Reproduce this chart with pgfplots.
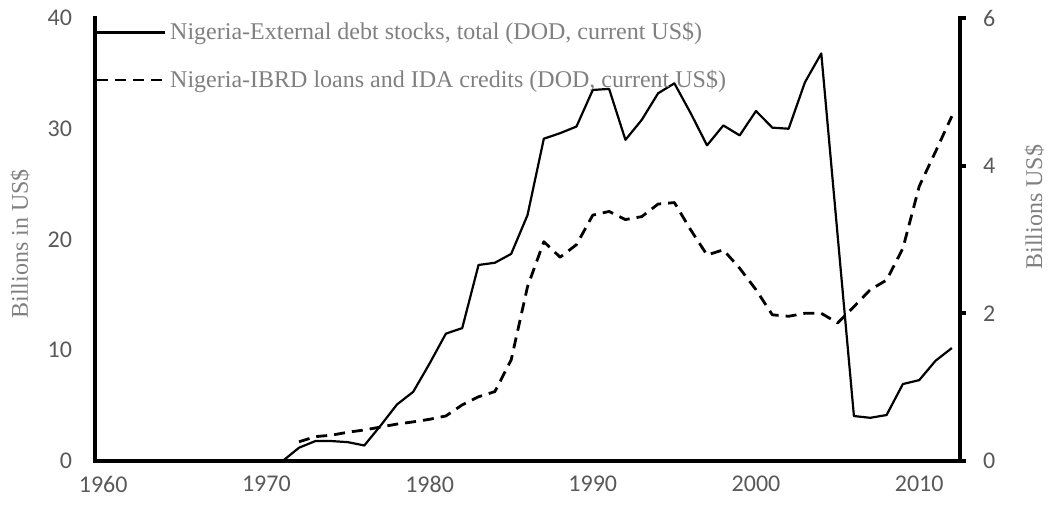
\documentclass[border=0pt]{standalone}
\usepackage{fontspec}
\setmainfont{Liberation Serif}
\newfontfamily\tickfont{Carlito}
\usepackage{pgfplots}
\pgfplotsset{compat=1.18}
\usetikzlibrary{calc}

\definecolor{ticktxt}{RGB}{89,89,89}
\definecolor{labtxt}{RGB}{128,128,128}

\pgfplotstableread{
year debt
1971 0.0
1972 1.2
1973 1.8
1974 1.8
1975 1.7
1976 1.4
1977 3.2
1978 5.1
1979 6.25
1980 8.8
1981 11.5
1982 12.0
1983 17.7
1984 17.9
1985 18.7
1986 22.2
1987 29.1
1988 29.6
1989 30.2
1990 33.5
1991 33.6
1992 29.0
1993 30.8
1994 33.2
1995 34.1
1996 31.4
1997 28.5
1998 30.3
1999 29.4
2000 31.6
2001 30.1
2002 30.0
2003 34.2
2004 36.8
2005 20.4
2006 4.06
2007 3.9
2008 4.15
2009 6.95
2010 7.3
2011 9.05
2012 10.2
}\debt

\pgfplotstableread{
year ibrd
1972 0.26
1973 0.33
1974 0.35
1975 0.39
1976 0.42
1977 0.46
1978 0.50
1979 0.53
1980 0.565
1981 0.61
1982 0.76
1983 0.87
1984 0.94
1985 1.37
1986 2.36
1987 2.97
1988 2.76
1989 2.93
1990 3.33
1991 3.38
1992 3.27
1993 3.31
1994 3.48
1995 3.50
1996 3.13
1997 2.79
1998 2.86
1999 2.61
2000 2.32
2001 1.98
2002 1.96
2003 2.00
2004 2.00
2005 1.87
2006 2.09
2007 2.32
2008 2.45
2009 2.88
2010 3.72
2011 4.19
2012 4.67
}\ibrd

\pgfplotsset{
  base/.style={
    scale only axis,
    width=432.5pt, height=221.5pt,
    xmin=1959.5, xmax=2012.5,
    axis line style={line width=2pt, -, line cap=rect},
    tick label style={font=\tickfont\fontsize{12}{14}\selectfont, text=ticktxt},
    /pgf/number format/assume math mode=true,
    /pgf/number format/1000 sep={},
    clip=false,
  },
  dashline/.style={black, line width=1.4pt, dash pattern=on 5.5pt off 3.5pt, line join=round},
  solidline/.style={black, line width=1.1pt, line join=round},
}

\begin{document}
\begin{tikzpicture}
\begin{axis}[
  base, name=main,
  axis x line*=bottom, axis y line*=left,
  ymin=0, ymax=40,
  xtick={1960,1970,...,2010},
  ytick={0,10,20,30,40},
  major tick length=0pt,
  xticklabel style={yshift=-4pt},
  yticklabel style={xshift=-8pt},
  every axis y label/.style={at={(axis description cs:-0.0867,0.49)}, rotate=90, anchor=center},
  ylabel={Billions in US\$},
  ylabel style={font=\fontsize{12}{14}\selectfont, text=labtxt},
  legend style={at={(axis description cs:0,1)}, anchor=north west, draw=none, fill=none,
    inner xsep=0pt, inner ysep=0pt, row sep=9.5pt,
    font=\fontsize{12}{14}\selectfont, text=labtxt, cells={anchor=west}},
  legend image code/.code={\draw[#1] (0pt,0pt) -- (34pt,0pt);},
]
\addplot[solidline] table[x=year, y=debt] {\debt};
\addlegendentry{Nigeria-External debt stocks, total (DOD, current US\$)}
\addlegendimage{dashline}
\addlegendentry{Nigeria-IBRD loans and IDA credits (DOD, current US\$)}
\end{axis}

\begin{axis}[
  base,
  hide x axis,
  axis y line*=right,
  ymin=0, ymax=6,
  ytick={0,2,4,6},
  tick align=outside,
  major tick length=3pt,
  tick style={black, line width=2pt},
  yticklabel style={xshift=5pt},
  every axis y label/.style={at={(axis description cs:1.086,0.573)}, rotate=90, anchor=center},
  ylabel={Billions US\$},
  ylabel style={font=\fontsize{12}{14}\selectfont, text=labtxt},
]
\addplot[dashline] table[x=year, y=ibrd] {\ibrd};
\end{axis}

\pgfresetboundingbox
\path[use as bounding box] ($(main.south west)+(-47.5pt,-22.5pt)$) rectangle ($(main.north east)+(44.5pt,9pt)$);
\end{tikzpicture}
\end{document}
